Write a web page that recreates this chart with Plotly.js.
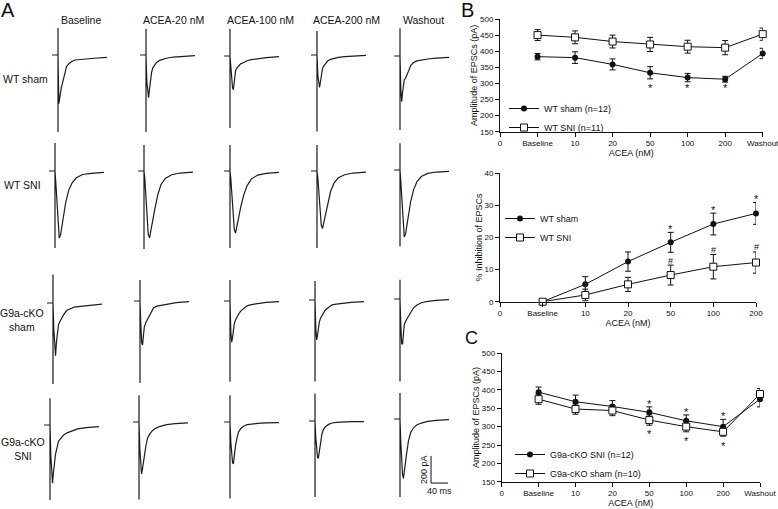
<!DOCTYPE html>
<html><head><meta charset="utf-8">
<script src="https://cdn.plot.ly/plotly-3.0.1.min.js"></script>
<style>html,body{margin:0;padding:0;background:#fff}#chart{width:778px;height:509px}</style>
</head><body><div id="chart"></div>
<script>
// ================= DATA =================
// Panel B (top): amplitude of EPSCs, WT
const ampTickText = ["0","Baseline","10","20","50","100","200","Washout"];
const ampPos = [1,2,3,4,5,6,7];
const wtShamAmp    = [383,380,359,333,318,313,393];
const wtShamAmpErr = [10,18,17,19,13,9,16];
const wtSniAmp     = [450,443,430,421,414,411,453];
const wtSniAmpErr  = [17,20,20,22,20,22,19];
const bStarPos = [4,5,6];
const bStarY   = [294,294,294];

// Panel B (bottom): % inhibition
const inhTickText = ["0","Baseline","10","20","50","100","200"];
const inhPos = [1,2,3,4,5,6];
const wtShamInh    = [0,5.4,12.5,18.5,24.2,27.5];
const wtShamInhErr = [0,2.4,3.0,3.1,3.4,3.4];
const wtSniInh     = [0,2.1,5.4,8.3,10.9,12.2];
const wtSniInhErr  = [0,1.8,2.2,3.1,3.8,3.3];
const inhStarPos = [4,5,6];
const inhStarY   = [23.5,29.4,32.9];
const inhHashPos = [4,5,6];
const inhHashY   = [12.8,16.1,17.1];

// Panel C: amplitude of EPSCs, G9a-cKO
const koSniAmp     = [394,368,355,339,316,300,375];
const koSniAmpErr  = [14,18,16,15,16,20,21];
const koShamAmp    = [375,348,344,318,300,286,389];
const koShamAmpErr = [14,14,14,14,14,12,15];
const cStarPos    = [4,5,6];
const cStarAboveY = [371,348,336];
const cStarBelowY = [289,268,255];

// Panel A: EPSC traces (time in ms after stimulus, current in pA from baseline)
const colLabels = ["Baseline","ACEA-20 nM","ACEA-100 nM","ACEA-200 nM","Washout"];
const rowLabels = ["WT sham","WT SNI","G9a-cKO<br>sham","G9a-cKO<br>SNI"];
const preStim = -14;
const traceTime = [0,2,4,6,8,10,13,16,20,25,32,40,50,65,85,115];
const wtShamEpsc = [
 [0,-360,-317,-258,-240,-216,-172,-130,-85,-66,-48,-37,-33,-28,-24,-17],
 [0,-200,-300,-315,-260,-200,-130,-95,-75,-55,-40,-30,-22,-15,-10,-5],
 [0,-80,-170,-235,-250,-180,-110,-90,-75,-58,-48,-35,-27,-20,-12,-5],
 [0,-150,-230,-240,-200,-140,-100,-80,-62,-45,-32,-24,-18,-12,-7,-3],
 [0,-250,-338,-270,-200,-175,-165,-145,-112,-70,-48,-36,-29,-22,-15,-10]
];
const wtSniEpsc = [
 [0,-90,-210,-320,-440,-496,-475,-420,-335,-235,-145,-89,-50,-26,-17,-10],
 [0,-60,-160,-270,-380,-470,-495,-450,-380,-290,-180,-100,-55,-28,-15,-8],
 [0,-60,-150,-250,-350,-430,-460,-420,-350,-270,-180,-110,-60,-30,-17,-10],
 [0,-50,-140,-230,-320,-400,-425,-380,-310,-230,-150,-90,-50,-28,-15,-8],
 [0,-90,-210,-330,-440,-495,-475,-415,-335,-235,-145,-85,-48,-25,-15,-10]
];
const koShamEpsc = [
 [0,-200,-360,-390,-293,-211,-158,-139,-115,-86,-56,-42,-30,-25,-17,-8],
 [0,-180,-310,-325,-260,-195,-165,-145,-125,-90,-50,-38,-32,-22,-12,-5],
 [0,-230,-305,-270,-215,-170,-140,-120,-98,-75,-55,-36,-27,-18,-10,-5],
 [0,-220,-295,-260,-205,-165,-135,-115,-95,-72,-52,-36,-30,-24,-18,-12],
 [0,-200,-330,-335,-255,-190,-165,-148,-125,-95,-65,-45,-28,-17,-10,-5]
];
const koSniEpsc = [
 [0,-230,-400,-430,-355,-290,-216,-174,-120,-100,-74,-58,-45,-29,-20,-12],
 [0,-200,-340,-385,-350,-300,-235,-180,-120,-90,-62,-45,-32,-20,-12,-7],
 [0,-150,-260,-300,-310,-250,-175,-125,-75,-50,-32,-20,-15,-10,-7,-5],
 [0,-130,-230,-270,-275,-220,-145,-100,-62,-40,-25,-15,-10,-7,-5,-5],
 [0,-180,-320,-410,-440,-380,-310,-245,-160,-100,-65,-42,-30,-17,-10,-5]
];
const artifactUp   = [[200,192,200,178,205],[207,192,192,192,198],[210,155,155,140,143],[198,198,198,203,192]];
const artifactDown = [[570,570,533,567,548],[570,577,570,570,567],[600,607,597,604,610],[555,574,567,562,577]];
const scaleBarPa = 200, scaleBarMs = 40;

// ================= LAYOUT / DRAWING =================
const W = 778, H = 509;
const FONT = '"Liberation Sans", Arial, Helvetica, sans-serif';
const INK = '#111';
const msPerPx = 2.35, pAPerPx = 7.4;
const dx = (a,b) => [a/W, b/W];
const dy = (top,bottom) => [1-bottom/H, 1-top/H];

const traces = [];
const annotations = [];
const shapes = [];
const layout = {
  width: W, height: H, margin: {l:0,r:0,t:0,b:0},
  paper_bgcolor: '#fff', plot_bgcolor: 'rgba(0,0,0,0)',
  font: {family: FONT, color: INK, size: 10},
  showlegend: true
};

function dataXAxis(domain, range, ticktext, yAnchor) {
  return {domain, range, anchor: yAnchor, tickmode: 'array',
    tickvals: ticktext.map((_, i) => i), ticktext, ticklabeloverflow: 'allow',
    showline: true, linecolor: INK, linewidth: 1, ticks: 'outside', ticklen: 4, tickwidth: 1, tickcolor: INK,
    showgrid: false, zeroline: false, fixedrange: true, tickfont: {size: 8, family: FONT, color: INK},
    title: {text: 'ACEA (nM)', font: {size: 9, family: FONT, color: INK}, standoff: 0}};
}
function dataYAxis(domain, range, dtick, title, xAnchor) {
  return {domain, range, anchor: xAnchor, tick0: range[0], dtick, ticklabeloverflow: 'allow',
    showline: true, linecolor: INK, linewidth: 1, ticks: 'outside', ticklen: 4, tickwidth: 1, tickcolor: INK,
    showgrid: false, zeroline: false, fixedrange: true, tickfont: {size: 8, family: FONT, color: INK},
    title: {text: title, font: {size: 9, family: FONT, color: INK}, standoff: 0}};
}
function series(name, x, y, err, filled, xa, ya, legend) {
  return {type: 'scatter', mode: 'lines+markers', name, x, y, xaxis: xa, yaxis: ya, legend,
    line: {color: INK, width: 1},
    marker: filled ? {symbol: 'circle', size: 6, color: INK}
                   : {symbol: 'square', size: 7, color: '#fff', line: {color: INK, width: 1}},
    error_y: {type: 'data', array: err, visible: true, thickness: 1, width: 3, color: INK},
    hoverinfo: 'skip', cliponaxis: false};
}
function marks(posArr, yArr, text, xref, yref, size, shift) {
  posArr.forEach((p, i) => annotations.push({x: p, y: yArr[i], xref, yref, text, showarrow: false,
    xanchor: 'center', yanchor: 'middle', font: {size, family: FONT, color: INK}, yshift: shift}));
}
function label(xPx, yPx, text, size, extra) {
  annotations.push(Object.assign({xref: 'paper', yref: 'paper', x: xPx/W, y: 1-yPx/H, text, showarrow: false,
    xanchor: 'center', yanchor: 'middle', align: 'center', font: {size, family: FONT, color: INK}}, extra || {}));
}

// ---- Panel B top
layout.xaxis = dataXAxis(dx(500, 762.7), [0, 7], ampTickText, 'y');
layout.yaxis = dataYAxis(dy(19, 131.7), [150, 500], 50, 'Amplitude of EPSCs (pA)', 'x');
traces.push(series('WT sham (n=12)', ampPos, wtShamAmp, wtShamAmpErr, true, 'x', 'y', 'legend'));
traces.push(series('WT SNI (n=11)', ampPos, wtSniAmp, wtSniAmpErr, false, 'x', 'y', 'legend'));
marks(bStarPos, bStarY, '*', 'x', 'y', 11, -3);

// ---- Panel B bottom
layout.xaxis2 = dataXAxis(dx(500, 756), [0, 6], inhTickText, 'y2');
layout.yaxis2 = dataYAxis(dy(173.3, 301.7), [0, 40], 10, '% Inhibition of EPSCs', 'x2');
traces.push(series('WT sham', inhPos, wtShamInh, wtShamInhErr, true, 'x2', 'y2', 'legend2'));
traces.push(series('WT SNI', inhPos, wtSniInh, wtSniInhErr, false, 'x2', 'y2', 'legend2'));
marks(inhStarPos, inhStarY, '*', 'x2', 'y2', 11, -3);
marks(inhHashPos, inhHashY, '#', 'x2', 'y2', 9, 0);

// ---- Panel C
layout.xaxis3 = dataXAxis(dx(501.7, 760), [0, 7], ampTickText, 'y3');
layout.yaxis3 = dataYAxis(dy(353.3, 481.7), [150, 500], 50, 'Amplitude of EPSCs (pA)', 'x3');
traces.push(series('G9a-cKO SNI (n=12)', ampPos, koSniAmp, koSniAmpErr, true, 'x3', 'y3', 'legend3'));
traces.push(series('G9a-cKO sham (n=10)', ampPos, koShamAmp, koShamAmpErr, false, 'x3', 'y3', 'legend3'));
marks(cStarPos, cStarAboveY, '*', 'x3', 'y3', 11, -3);
marks(cStarPos, cStarBelowY, '*', 'x3', 'y3', 11, -3);

const legendBase = {bgcolor: 'rgba(0,0,0,0)', borderwidth: 0, xanchor: 'left', yanchor: 'top',
  font: {size: 9, family: FONT, color: INK}, itemwidth: 30, tracegroupgap: 0};
layout.legend  = Object.assign({}, legendBase, {x: 504/W, y: 1-94/H});
layout.legend2 = Object.assign({}, legendBase, {x: 500/W, y: 1-204/H});
layout.legend3 = Object.assign({}, legendBase, {x: 510/W, y: 1-440/H});

// ---- Panel A: trace cells
const cellArtX  = [[58,146,230,317,400],[55,144,230,317,400],[53,140,230,315,400],[50,139,230,315,400]];
const cellBaseY = [[55,55,56,55,56],[171,171,171,171,170],[303,301,301,300,299],[425,422,422,421,419]];
const epscRows = [wtShamEpsc, wtSniEpsc, koShamEpsc, koSniEpsc];
let n = 4, lastCell = null;
for (let r = 0; r < 4; r++) {
  for (let c = 0; c < 5; c++) {
    const ax = cellArtX[r][c], by = cellBaseY[r][c];
    const left = ax - 10, right = ax + 52, top = by - 32, bottom = Math.min(by + 86, H);
    layout['xaxis' + n] = {domain: dx(left, right), range: [(left-ax)*msPerPx, (right-ax)*msPerPx],
      visible: false, fixedrange: true, anchor: 'y' + n};
    layout['yaxis' + n] = {domain: dy(top, bottom), range: [-(bottom-by)*pAPerPx, (by-top)*pAPerPx],
      visible: false, fixedrange: true, anchor: 'x' + n};
    traces.push({type: 'scatter', mode: 'lines', showlegend: false, hoverinfo: 'skip',
      xaxis: 'x' + n, yaxis: 'y' + n,
      x: [preStim, 0, 0, 0].concat(traceTime),
      y: [0, 0, artifactUp[r][c], -artifactDown[r][c]].concat(epscRows[r][c]),
      line: {color: '#1c1c1c', width: 1.2}});
    lastCell = n;
    n++;
  }
}
// scale bar in the last cell's data units
const sbX = 73, sbY = -474;
shapes.push({type: 'line', xref: 'x' + lastCell, yref: 'y' + lastCell, x0: sbX, x1: sbX, y0: sbY, y1: sbY + scaleBarPa, line: {color: INK, width: 1}});
shapes.push({type: 'line', xref: 'x' + lastCell, yref: 'y' + lastCell, x0: sbX, x1: sbX + scaleBarMs, y0: sbY, y1: sbY, line: {color: INK, width: 1}});
label(424, 469, scaleBarPa + ' pA', 9, {textangle: -90});
label(439, 491, scaleBarMs + ' ms', 9);

// headers and row labels
const colHeadX = [81, 173, 260, 346, 424];
colLabels.forEach((t, i) => label(colHeadX[i], 20, t, 10.5));
const rowLabX = [26, 22, 22, 23], rowLabY = [79, 185, 319.5, 449];
rowLabels.forEach((t, i) => label(rowLabX[i], rowLabY[i], t, 10.5));

// panel letters
label(8, 10, 'A', 20);
label(467, 10, 'B', 20);
label(471, 338, 'C', 18);

layout.annotations = annotations;
layout.shapes = shapes;
Plotly.newPlot('chart', traces, layout, {staticPlot: true, displayModeBar: false});
</script></body></html>
